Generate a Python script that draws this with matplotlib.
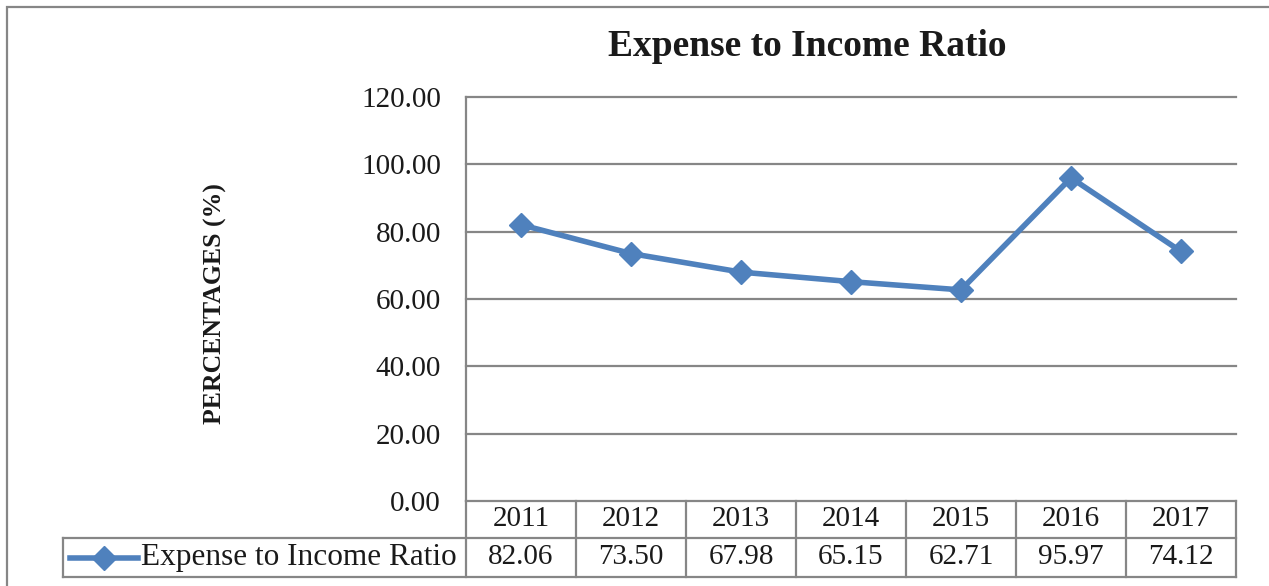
import matplotlib
matplotlib.use("Agg")
import matplotlib.pyplot as plt
from matplotlib.lines import Line2D
from matplotlib.patches import Rectangle
from matplotlib.transforms import blended_transform_factory

plt.rcParams['font.family'] = ['Liberation Serif', 'DejaVu Serif']

years = ['2011', '2012', '2013', '2014', '2015', '2016', '2017']
ratio = [82.06, 73.50, 67.98, 65.15, 62.71, 95.97, 74.12]
yticks = [0, 20, 40, 60, 80, 100, 120]
series_name = 'Expense to Income Ratio'

W, H = 1269, 586
grey = '#868686'
blue = '#4F81BD'
ink = '#1a1a1a'

fig = plt.figure(figsize=(W / 100, H / 100), dpi=100)

# chart area frame
fig.patches.append(Rectangle((7 / W, -0.1), 1.2, 1 - 7 / H + 0.1, transform=fig.transFigure,
                             fill=False, edgecolor=grey, linewidth=1.6))

ax = fig.add_axes([466 / W, 85 / H, 770 / W, 404 / H])
x = list(range(len(years)))
ax.plot(x, ratio, color=blue, linewidth=4, marker='D', markersize=12,
        markeredgecolor=blue, markerfacecolor=blue, zorder=3)

ax.set_xlim(-0.5, len(years) - 0.5)
ax.set_ylim(0, 120)
ax.set_yticks(yticks)
ax.set_yticklabels(['%.2f' % v for v in yticks], fontsize=21, color=ink)
ax.set_xticks([])
ax.tick_params(axis='y', length=0, pad=18)
for s in ['top', 'right', 'bottom']:
    ax.spines[s].set_visible(False)
ax.spines['left'].set_color(grey)
ax.spines['left'].set_linewidth(1.6)
for v in yticks:
    ax.axhline(v, color=grey, linewidth=1.6, zorder=1, clip_on=False)

# data table under the plot
ph = 404.0
r1 = -37 / ph
r2 = -76 / ph
n = len(years)
leg_left = (63 - 466) / 770
tA = ax.transAxes
for i in range(n + 1):
    ax.add_line(Line2D([i / n, i / n], [0, r2], transform=tA, color=grey,
                       linewidth=1.6, clip_on=False))
for yy in [r1, r2]:
    ax.add_line(Line2D([leg_left, 1], [yy, yy], transform=tA, color=grey,
                       linewidth=1.6, clip_on=False))
ax.add_line(Line2D([leg_left, leg_left], [r1, r2], transform=tA, color=grey,
                   linewidth=1.6, clip_on=False))

tB = blended_transform_factory(ax.transData, ax.transAxes)
for i, (yr, val) in enumerate(zip(years, ratio)):
    ax.text(i, r1 / 2, yr, transform=tB, ha='center', va='center', fontsize=21, color=ink)
    ax.text(i, (r1 + r2) / 2, '%.2f' % val, transform=tB, ha='center', va='center',
            fontsize=21, color=ink)

# legend key inside the table
ymid = (r1 + r2) / 2
ax.add_line(Line2D([(70 - 466) / 770, (138 - 466) / 770], [ymid, ymid], transform=tA,
                   color=blue, linewidth=4, clip_on=False))
ax.add_line(Line2D([(104 - 466) / 770], [ymid], transform=tA, color=blue, marker='D',
                   markersize=12, clip_on=False))
ax.text((141 - 466) / 770, ymid, series_name, transform=tA, ha='left', va='center',
        fontsize=22.5, color=ink)

fig.text(807 / W, 1 - 47 / H, 'Expense to Income Ratio', ha='center', va='center',
         fontsize=27, fontweight='bold', color=ink)
fig.text(215 / W, 1 - 304 / H, 'PERCENTAGES (%)', ha='center', va='center',
         rotation=90, fontsize=18.5, fontweight='bold', color=ink)

fig.savefig('out.png', dpi=100)
